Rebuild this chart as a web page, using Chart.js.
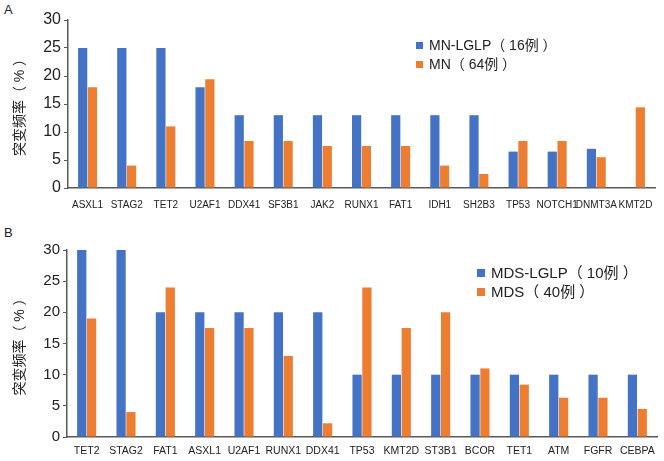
<!DOCTYPE html>
<html>
<head>
<meta charset="utf-8">
<script src="https://cdn.jsdelivr.net/npm/chart.js@4/dist/chart.umd.min.js"></script>
<style>
  body { margin: 0; background: #fff; width: 664px; height: 461px; position: relative; overflow: hidden; }
  .panel { position: absolute; left: 0; width: 664px; }
  .tag { position: absolute; left: 4px; font: 13px "Liberation Sans", sans-serif; color: #222; }
</style>
</head>
<body>
<div class="tag" style="top:2px">A</div>
<div class="tag" style="top:225px">B</div>
<div class="panel" style="top:0;height:215px"><canvas id="chartA" width="664" height="215"></canvas></div>
<div class="panel" style="top:222px;height:239px"><canvas id="chartB" width="664" height="239"></canvas></div>
<script>
// panel A
var genesA = ['ASXL1','STAG2','TET2','U2AF1','DDX41','SF3B1','JAK2','RUNX1','FAT1','IDH1','SH2B3','TP53','NOTCH1','DNMT3A','KMT2D'];
var lglpA = [25, 25, 25, 18, 13, 13, 13, 13, 13, 13, 13, 6.5, 6.5, 7, 0];
var mnA   = [18, 4, 11, 19.4, 8.4, 8.4, 7.5, 7.5, 7.5, 4, 2.5, 8.4, 8.4, 5.5, 14.4];
var labelsA = ['MN-LGLP（ 16例 ）', 'MN（ 64例 ）'];

// panel B
var genesB = ['TET2','STAG2','FAT1','ASXL1','U2AF1','RUNX1','DDX41','TP53','KMT2D','ST3B1','BCOR','TET1','ATM','FGFR','CEBPA'];
var lglpB = [30, 30, 20, 20, 20, 20, 20, 10, 10, 10, 10, 10, 10, 10, 10];
var mdsB  = [19, 4, 24, 17.5, 17.5, 13, 2.2, 24, 17.5, 20, 11, 8.4, 6.3, 6.3, 4.5];
var labelsB = ['MDS-LGLP（ 10例 ）', 'MDS（ 40例 ）'];

var yTitle = '突变频率（ % ）';
var BLUE = '#4472c4', ORANGE = '#ed7d31';
var FONT = '"Liberation Sans", "Noto Sans CJK SC", sans-serif';

// legend drawn by hand at a fixed spot inside the plot
var boxLegend = {
  id: 'boxLegend',
  afterDraw: function(chart, args, opts) {
    var ctx = chart.ctx;
    ctx.save();
    ctx.font = opts.size + 'px ' + FONT;
    ctx.textBaseline = 'middle';
    chart.data.datasets.forEach(function(ds, i) {
      var y = opts.y + i * opts.gap;
      ctx.fillStyle = ds.backgroundColor;
      ctx.fillRect(opts.x, y - opts.box / 2, opts.box, opts.box);
      ctx.fillStyle = '#222';
      ctx.fillText(ds.label, opts.x + opts.box + 6, y + 1);
    });
    ctx.restore();
  }
};

function makeChart(id, genes, s1, s2, names, cfg) {
  return new Chart(document.getElementById(id), {
    type: 'bar',
    data: {
      labels: genes,
      datasets: [
        { label: names[0], data: s1, backgroundColor: BLUE },
        { label: names[1], data: s2, backgroundColor: ORANGE }
      ]
    },
    options: {
      responsive: false,
      animation: false,
      layout: { padding: { top: cfg.top, right: cfg.right, left: 0, bottom: 0 } },
      datasets: { bar: { categoryPercentage: 0.5, barPercentage: 0.94 } },
      plugins: {
        legend: { display: false },
        tooltip: { enabled: false },
        boxLegend: cfg.legend
      },
      scales: {
        x: {
          grid: { display: false, drawTicks: false },
          border: { display: true, color: '#595959', width: 1.5 },
          ticks: { color: '#222', font: { family: FONT, size: cfg.xsize }, padding: cfg.xpad, maxRotation: 0, autoSkip: false },
          afterFit: function(s) { s.height = cfg.xh; }
        },
        y: {
          min: 0, max: 30,
          grid: { display: true, drawOnChartArea: false, drawTicks: true, tickLength: 4, color: '#595959' },
          border: { display: true, color: '#595959', width: 1.5 },
          ticks: { stepSize: 5, color: '#222', font: { family: FONT, size: cfg.ysize }, padding: 3 },
          title: { display: true, text: yTitle, color: '#222', font: { family: FONT, size: 14 }, padding: { top: 12, bottom: 0 } },
          afterFit: function(s) { s.width = cfg.yw; }
        }
      }
    },
    plugins: [boxLegend]
  });
}

makeChart('chartA', genesA, lglpA, mnA, labelsA, {
  top: 20, right: 9, xh: 27, yw: 68, xpad: 11, ysize: 16, xsize: 10,
  legend: { x: 416, y: 45.5, gap: 19, box: 7, size: 14 }
});
makeChart('chartB', genesB, lglpB, mdsB, labelsB, {
  top: 28, right: 7, xh: 24, yw: 67, xpad: 8, ysize: 15, xsize: 10.5,
  legend: { x: 477, y: 51, gap: 19, box: 8, size: 15 }
});
</script>
</body>
</html>
